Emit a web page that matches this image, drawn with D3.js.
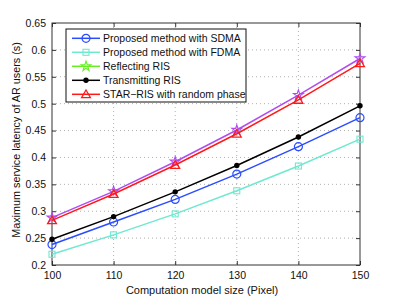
<!DOCTYPE html>
<html>
<head>
<meta charset="utf-8">
<script src="https://cdn.jsdelivr.net/npm/d3@7"></script>
<style>
  body { margin: 0; background: #fff; }
  svg { display: block; font-family: "Liberation Sans", Arial, sans-serif; }
  .grid line { stroke: #b0b0b0; stroke-dasharray: 1,3; }
</style>
</head>
<body>
<svg id="chart" width="397" height="298"></svg>
<script>
// data
const sizes = [100, 110, 120, 130, 140, 150];
const sdma = [0.238, 0.28, 0.322, 0.369, 0.42, 0.474];
const fdma = [0.22, 0.256, 0.295, 0.338, 0.384, 0.434];
const reflecting = [0.288, 0.337, 0.392, 0.451, 0.516, 0.584];
const transmitting = [0.248, 0.29, 0.336, 0.385, 0.438, 0.496];
const randomPhase = [0.283, 0.332, 0.386, 0.444, 0.507, 0.575];
const yTicks = [0.2, 0.25, 0.3, 0.35, 0.4, 0.45, 0.5, 0.55, 0.6, 0.65];
const xTicks = [100, 110, 120, 130, 140, 150];

const series = [
    { name: 'Proposed method with SDMA', values: sdma, color: '#2b4cff', legendColor: '#2b4cff', marker: 'circle' },
    { name: 'Proposed method with FDMA', values: fdma, color: '#6fe8d0', legendColor: '#6fe8d0', marker: 'square' },
    { name: 'Reflecting RIS', values: reflecting, color: '#b04cf0', legendColor: '#66ee22', marker: 'star' },
    { name: 'Transmitting RIS', values: transmitting, color: '#000000', legendColor: '#000000', marker: 'dot' },
    { name: 'STAR\u2212RIS with random phase', values: randomPhase, color: '#ff1a1a', legendColor: '#ff1a1a', marker: 'triangle' }
];

const margin = { top: 23, right: 37, bottom: 33, left: 52 };
const width = 397 - margin.left - margin.right;
const height = 298 - margin.top - margin.bottom;

const svg = d3.select('#chart');
const g = svg.append('g').attr('transform', `translate(${margin.left},${margin.top})`);

const x = d3.scaleLinear().domain([100, 150]).range([0, width]);
const y = d3.scaleLinear().domain([0.2, 0.65]).range([height, 0]);

// grid
g.append('g').attr('class', 'grid')
    .selectAll('line').data(xTicks.slice(1, -1)).enter().append('line')
    .attr('x1', d => x(d)).attr('x2', d => x(d)).attr('y1', 0).attr('y2', height);
g.append('g').attr('class', 'grid')
    .selectAll('line').data(yTicks.slice(1, -1)).enter().append('line')
    .attr('x1', 0).attr('x2', width).attr('y1', d => y(d)).attr('y2', d => y(d));

// axes with inward ticks
const fmtY = d => d3.format('.2~f')(d);
g.append('g').attr('transform', `translate(0,${height})`)
    .call(d3.axisBottom(x).tickValues(xTicks).tickSize(-4).tickPadding(7));
g.append('g')
    .call(d3.axisLeft(y).tickValues(yTicks).tickFormat(fmtY).tickSize(-4).tickPadding(6));
g.append('g').call(d3.axisTop(x).tickValues(xTicks).tickSize(-4).tickFormat(''));
g.append('g').attr('transform', `translate(${width},0)`)
    .call(d3.axisRight(y).tickValues(yTicks).tickSize(-4).tickFormat(''));
g.selectAll('.domain').remove();
g.selectAll('.tick line').attr('stroke', '#333');
g.selectAll('.tick text').attr('font-size', 10.5).attr('fill', '#111')
    .style('font-family', '"Liberation Sans", Arial, sans-serif');

g.append('rect').attr('width', width).attr('height', height)
    .attr('fill', 'none').attr('stroke', '#333').attr('stroke-width', 1);

// markers
const star = d3.symbol().type(d3.symbolStar).size(30);
const tri = d3.symbol().type(d3.symbolTriangle).size(34);
function drawMarker(sel, type, color) {
    if (type === 'circle') {
        sel.append('circle').attr('r', 4).attr('fill', 'none').attr('stroke', color).attr('stroke-width', 1.2);
    } else if (type === 'square') {
        sel.append('rect').attr('x', -3).attr('y', -3).attr('width', 6).attr('height', 6)
            .attr('fill', 'none').attr('stroke', color).attr('stroke-width', 1.1);
    } else if (type === 'star') {
        sel.append('path').attr('d', star).attr('fill', 'none').attr('stroke', color).attr('stroke-width', 1.1);
    } else if (type === 'dot') {
        sel.append('circle').attr('r', 2.7).attr('fill', color);
    } else if (type === 'triangle') {
        sel.append('path').attr('d', tri).attr('transform', 'translate(0,0.8)')
            .attr('fill', 'none').attr('stroke', color).attr('stroke-width', 1.3);
    }
}

// lines
const line = d3.line().x((d, i) => x(sizes[i])).y(d => y(d));
series.forEach(s => {
    g.append('path').datum(s.values).attr('d', line)
        .attr('fill', 'none').attr('stroke', s.color).attr('stroke-width', 1.5);
    s.values.forEach((v, i) => {
        const m = g.append('g').attr('transform', `translate(${x(sizes[i])},${y(v)})`);
        drawMarker(m, s.marker, s.color);
    });
});

// legend
const legend = svg.append('g').attr('transform', 'translate(66,29)');
legend.append('rect').attr('width', 180).attr('height', 73)
    .attr('fill', '#fff').attr('stroke', '#111').attr('stroke-width', 1);
series.forEach((s, i) => {
    const row = legend.append('g').attr('transform', `translate(0,${9.3 + i * 14})`);
    row.append('line').attr('x1', 6).attr('x2', 34).attr('stroke', s.legendColor).attr('stroke-width', 1.5);
    drawMarker(row.append('g').attr('transform', 'translate(20,0)'), s.marker, s.legendColor);
    row.append('text').attr('x', 37).attr('dy', '0.35em').attr('font-size', 10.5).attr('fill', '#111')
        .text(s.name);
});

// axis titles
svg.append('text').attr('x', 202).attr('y', 294)
    .attr('text-anchor', 'middle').attr('font-size', 11).attr('fill', '#111')
    .text('Computation model size (Pixel)');
svg.append('text').attr('transform', 'translate(20,140) rotate(-90)')
    .attr('text-anchor', 'middle').attr('font-size', 10.8).attr('fill', '#111')
    .text('Maximum service latency of AR users (s)');
</script>
</body>
</html>
